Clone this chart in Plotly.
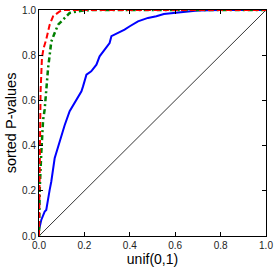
import plotly.graph_objects as go

diag_x = [0.0, 1.0]
diag_y = [0.0, 1.0]

blue_x = [0, 0.01, 0.025, 0.032, 0.047, 0.054, 0.069, 0.084, 0.098, 0.113, 0.135, 0.157, 0.187, 0.194, 0.209,
          0.23, 0.253, 0.267, 0.289, 0.311, 0.319, 0.348, 0.377, 0.4, 0.436, 0.48, 0.517, 0.55, 0.62, 0.7, 0.8, 1.0]
blue_y = [0.027, 0.071, 0.108, 0.115, 0.204, 0.24, 0.344, 0.395, 0.44, 0.49, 0.552, 0.589, 0.64, 0.662, 0.714,
          0.729, 0.758, 0.795, 0.824, 0.854, 0.884, 0.898, 0.913, 0.928, 0.95, 0.965, 0.972, 0.982, 0.99, 0.998, 1.0, 1.0]

green_x = [0, 0.003, 0.01, 0.018, 0.025, 0.032, 0.04, 0.047, 0.054, 0.069, 0.084, 0.106, 0.135, 0.187, 0.23, 1.0]
green_y = [0, 0.2, 0.367, 0.513, 0.56, 0.655, 0.743, 0.80, 0.86, 0.898, 0.935, 0.957, 0.987, 0.997, 1.0, 1.0]

red_x = [0, 0.002, 0.003, 0.007, 0.013, 0.02, 0.032, 0.047, 0.062, 0.091, 0.11, 1.0]
red_y = [0, 0.3, 0.52, 0.64, 0.788, 0.83, 0.87, 0.935, 0.972, 0.994, 1.0, 1.0]

tick_vals = [0.0, 0.2, 0.4, 0.6, 0.8, 1.0]
tick_text = ["0.0", "0.2", "0.4", "0.6", "0.8", "1.0"]

FONT = "Liberation Sans, Arial, sans-serif"

fig = go.Figure()
fig.add_trace(go.Scatter(x=diag_x, y=diag_y, mode="lines", line=dict(color="black", width=0.8)))
fig.add_trace(go.Scatter(x=blue_x, y=blue_y, mode="lines", line=dict(color="#0000FF", width=2)))
fig.add_trace(go.Scatter(x=green_x, y=green_y, mode="lines", line=dict(color="#008000", width=2.5, dash="2px,3px,5px,3px")))
fig.add_trace(go.Scatter(x=red_x, y=red_y, mode="lines", line=dict(color="#FF0000", width=2, dash="6px,3px")))

axis_common = dict(range=[0, 1], tickvals=tick_vals, ticktext=tick_text, ticks="inside", ticklen=4,
                   tickcolor="black", showline=True, linecolor="black", linewidth=1, mirror="ticks",
                   showgrid=False, zeroline=False, automargin=False, ticklabeloverflow="allow",
                   tickfont=dict(family=FONT, size=10, color="#222"))

fig.update_layout(
    width=277, height=271,
    margin=dict(l=39, r=11, t=10, b=35),
    paper_bgcolor="white", plot_bgcolor="white",
    showlegend=False,
    xaxis=dict(**axis_common, title=dict(text="unif(0,1)", font=dict(family=FONT, size=14, color="black"), standoff=2)),
    yaxis=dict(**axis_common, title=dict(text="sorted P-values", font=dict(family=FONT, size=14.5, color="black"), standoff=2)),
)

fig.write_html("out.html", config={"displayModeBar": False},
               post_script="document.body.style.margin='0';")
